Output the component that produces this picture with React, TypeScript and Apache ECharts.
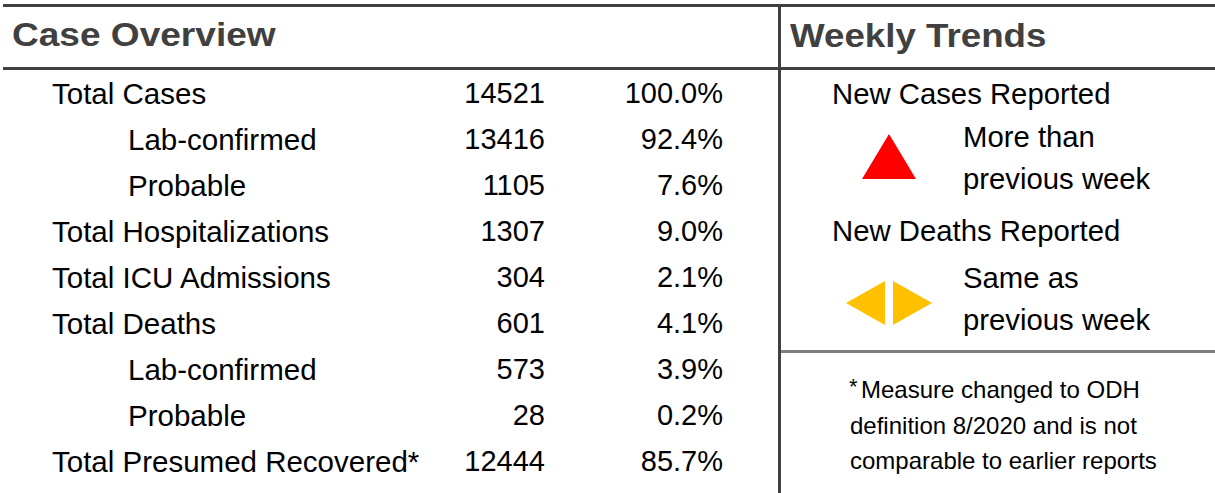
import React, { useEffect, useRef } from "react";
import * as echarts from "echarts";

// ---- Data ----
const rowLabels = [
  "Total Cases",
  "Lab-confirmed",
  "Probable",
  "Total Hospitalizations",
  "Total ICU Admissions",
  "Total Deaths",
  "Lab-confirmed",
  "Probable",
  "Total Presumed Recovered*",
];
const rowIndent = [0, 1, 1, 0, 0, 0, 1, 1, 0];
const rowCounts = [14521, 13416, 1105, 1307, 304, 601, 573, 28, 12444];
const rowPercents = [100.0, 92.4, 7.6, 9.0, 2.1, 4.1, 3.9, 0.2, 85.7];

const leftTitle = "Case Overview";
const rightTitle = "Weekly Trends";
const trendHeadings = ["New Cases Reported", "New Deaths Reported"];
const trendStatus = [
  ["More than", "previous week"],
  ["Same as", "previous week"],
];
const footnoteMarker = "*";
const footnoteLines = [
  "Measure changed to ODH",
  "definition 8/2020 and is not",
  "comparable to earlier reports",
];

const FONT = "'Liberation Sans', Arial, Helvetica, sans-serif";
const W = 1215;
const H = 493;
const LINE = "#404040";

export default function App() {
  const ref = useRef<HTMLDivElement>(null);

  useEffect(() => {
    document.body.style.margin = "0";
    if (!ref.current) return;
    const chart = echarts.init(ref.current, undefined, { renderer: "svg" });

    const txt = (
      x: number,
      y: number,
      text: string,
      size: number,
      opts: any = {}
    ) => ({
      type: "text",
      x,
      y,
      scaleX: opts.scaleX || 1,
      silent: true,
      style: {
        text,
        fill: opts.fill || "#000",
        fontSize: size,
        fontFamily: FONT,
        fontWeight: opts.bold ? "bold" : "normal",
        align: opts.align || "left",
        verticalAlign: "middle",
      },
    });

    const graphics: any[] = [
      // lines
      { type: "line", shape: { x1: 3, y1: 5.5, x2: W, y2: 5.5 }, style: { stroke: LINE, lineWidth: 3 } },
      { type: "line", shape: { x1: 3, y1: 68.5, x2: W, y2: 68.5 }, style: { stroke: LINE, lineWidth: 3 } },
      { type: "line", shape: { x1: 779.5, y1: 4, x2: 779.5, y2: H }, style: { stroke: LINE, lineWidth: 3 } },
      { type: "line", shape: { x1: 781, y1: 351.5, x2: W, y2: 351.5 }, style: { stroke: "#7f7f7f", lineWidth: 3 } },
      // titles
      txt(12, 35, leftTitle, 34, { bold: true, fill: "#404040", scaleX: 1.09 }),
      txt(790, 35, rightTitle, 34, { bold: true, fill: "#404040", scaleX: 1.08 }),
      // trends
      txt(832, 93, trendHeadings[0], 29.3),
      txt(963, 136, trendStatus[0][0], 29.3),
      txt(963, 178, trendStatus[0][1], 29.3),
      txt(832, 230, trendHeadings[1], 29.3),
      txt(963, 277, trendStatus[1][0], 29.3),
      txt(963, 319, trendStatus[1][1], 29.3),
      {
        type: "polygon",
        shape: { points: [[862, 179], [889, 134], [916, 179]] },
        style: { fill: "#ff0000" },
      },
      {
        type: "polygon",
        shape: { points: [[846, 303], [885, 281], [885, 325]] },
        style: { fill: "#ffc000" },
      },
      {
        type: "polygon",
        shape: { points: [[893, 281], [932, 303], [893, 325]] },
        style: { fill: "#ffc000" },
      },
      // footnote
      txt(849, 386, footnoteMarker, 22),
      txt(861, 389, footnoteLines[0], 24),
      txt(850, 425, footnoteLines[1], 24),
      txt(850, 460, footnoteLines[2], 24),
    ];

    const rows = rowLabels.map((_, i) => [i]);

    chart.setOption({
      animation: false,
      grid: { left: 0, right: 0, top: 70, bottom: H - 484 },
      xAxis: { type: "value", min: 0, max: W, show: false },
      yAxis: { type: "value", min: -0.5, max: 8.5, inverse: true, show: false },
      graphic: graphics,
      series: [
        {
          type: "custom",
          coordinateSystem: "cartesian2d",
          encode: { y: 0 },
          data: rows,
          renderItem: (params: any, api: any) => {
            const i = api.value(0);
            const y = api.coord([0, i])[1];
            const labelX = api.coord([rowIndent[i] ? 128 : 52, i])[0];
            const countX = api.coord([545, i])[0];
            const pctX = api.coord([723, i])[0];
            const mk = (x: number, text: string, align: string, size: number) => ({
              type: "text",
              style: {
                x,
                y,
                text,
                fill: "#000",
                fontSize: size,
                fontFamily: FONT,
                align,
                verticalAlign: "middle",
              },
            });
            return {
              type: "group",
              children: [
                mk(labelX, rowLabels[i], "left", 29.5),
                mk(countX, String(rowCounts[i]), "right", 29),
                mk(pctX, rowPercents[i].toFixed(1) + "%", "right", 29),
              ],
            };
          },
        },
      ],
    });

    return () => chart.dispose();
  }, []);

  return <div ref={ref} style={{ width: W, height: H }} />;
}
